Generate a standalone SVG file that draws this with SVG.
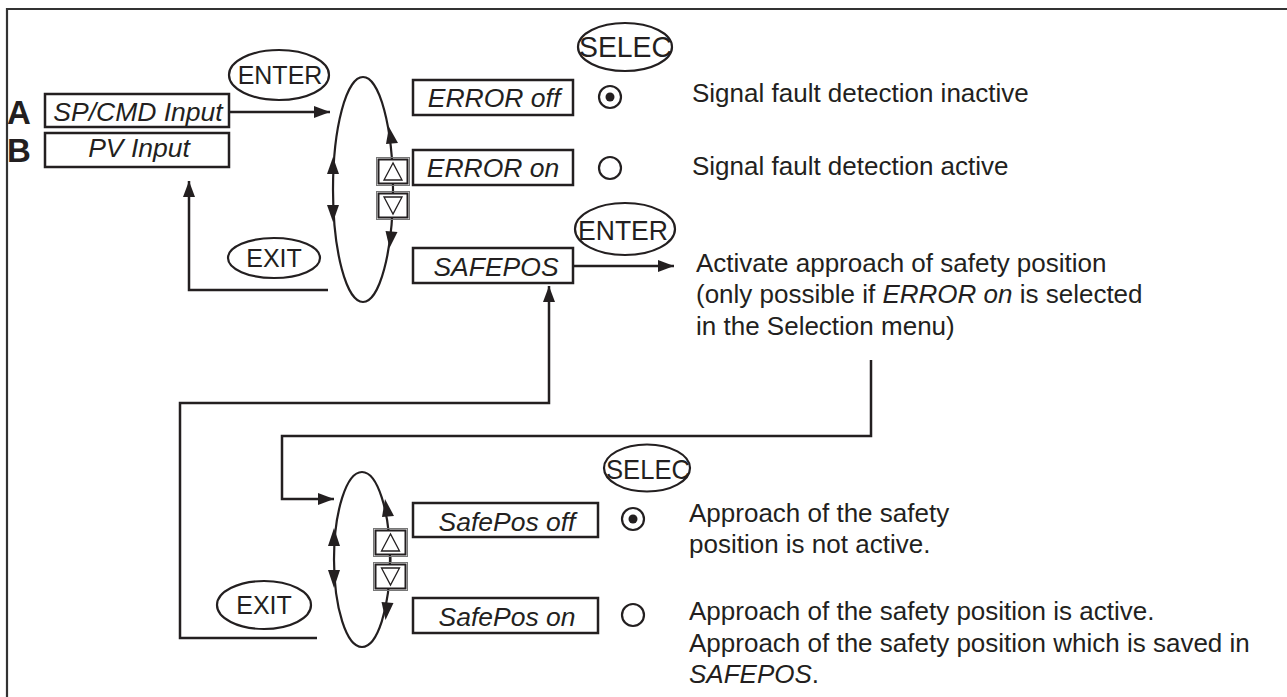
<svg xmlns="http://www.w3.org/2000/svg" width="1287" height="697" viewBox="0 0 1287 697">
<style>
.t{font-family:"Liberation Sans",Arial,sans-serif;fill:#231f20;}
.d{font-size:26px;}
.bx{fill:#fff;stroke:#231f20;stroke-width:2.5;}
.bl{font-size:26.5px;font-style:italic;text-anchor:middle;}
.el{fill:#fff;stroke:#231f20;stroke-width:2.2;}
.lp{fill:none;stroke:#231f20;stroke-width:2.2;}
.cn{fill:none;stroke:#231f20;stroke-width:2.5;}
.ah{fill:#231f20;stroke:none;}
.btn{fill:#fff;stroke:#231f20;stroke-width:2;}
.btno{fill:none;stroke:#777;stroke-width:1;}
.tri{fill:#fff;stroke:#231f20;stroke-width:1.3;}
.rd{fill:#fff;stroke:#231f20;stroke-width:2.2;}
.key{font-size:25px;text-anchor:middle;}
</style>
<defs>
<marker id="arr" viewBox="0 0 16 12" refX="16" refY="6" markerWidth="16" markerHeight="12" markerUnits="userSpaceOnUse" orient="auto">
<path d="M0,0 L16,6 L0,12 Z" fill="#231f20"/>
</marker>
</defs>
<rect x="0" y="0" width="1287" height="697" fill="#fff"/>
<g id="frame">
<polyline points="7,697 7,9 1287,9" fill="none" stroke="#333" stroke-width="2.2"/>
</g>

<g id="connectors">
<line class="cn" x1="229" y1="112" x2="330" y2="112" marker-end="url(#arr)"/>
<polyline class="cn" points="328,290 189,290 189,181" marker-end="url(#arr)"/>
<line class="cn" x1="573" y1="266" x2="674" y2="266" marker-end="url(#arr)"/>
<polyline class="cn" points="317,638 180,638 180,403 549,403 549,286" marker-end="url(#arr)"/>
<polyline class="cn" points="871,360 871,436 282,436 282,499 334,499" marker-end="url(#arr)"/>
</g>

<g id="labelA"><text class="t" x="7" y="124" font-size="33" font-weight="bold">A</text></g>
<g id="labelB"><text class="t" x="7" y="162" font-size="33" font-weight="bold">B</text></g>

<g id="spcmd">
<rect class="bx" x="45" y="94" width="184" height="33"/>
<text class="t bl" x="138" y="121">SP/CMD Input</text>
</g>
<g id="pvinput">
<rect class="bx" x="45" y="133" width="184" height="34"/>
<text class="t bl" x="139" y="157">PV Input</text>
</g>

<g id="enter1">
<ellipse class="el" cx="279" cy="75" rx="50" ry="25"/>
<text class="t key" x="280" y="84">ENTER</text>
</g>
<g id="exit1">
<ellipse class="el" cx="274" cy="258" rx="46" ry="20"/>
<text class="t key" x="274" y="267" font-size="24">EXIT</text>
</g>

<g id="loop1">
<ellipse class="lp" cx="363" cy="189.5" rx="30" ry="112.5"/>
<polygon class="ah" points="333,157 327,174 339,174"/>
<polygon class="ah" points="333,222 327,205 339,205"/>
<polygon class="ah" points="389,127 386,144 398,143"/>
<polygon class="ah" points="389.5,248 385.5,231 397.5,232"/>
</g>

<g id="updown1">
<line x1="393" y1="185" x2="393" y2="192" stroke="#231f20" stroke-width="2"/>
<rect class="btno" x="376.5" y="157.5" width="33" height="28"/>
<rect class="btn" x="378.5" y="159.5" width="29" height="24"/>
<polygon class="tri" points="393,163 384,180 402,180"/>
<rect class="btno" x="376.5" y="191.5" width="33" height="28"/>
<rect class="btn" x="378.5" y="193.5" width="29" height="24"/>
<polygon class="tri" points="384,197 402,197 393,214"/>
</g>

<g id="errorOff">
<rect class="bx" x="413" y="80" width="160" height="35"/>
<text class="t bl" x="494" y="107">ERROR off</text>
</g>
<g id="errorOn">
<rect class="bx" x="413" y="150" width="160" height="35"/>
<text class="t bl" x="493" y="177">ERROR on</text>
</g>
<g id="safepos">
<rect class="bx" x="413" y="248" width="160" height="35"/>
<text class="t bl" x="496" y="276">SAFEPOS</text>
</g>

<g id="selec1">
<ellipse class="el" cx="625" cy="47" rx="47" ry="24"/>
<text class="t" x="579" y="57" font-size="29" textLength="93" lengthAdjust="spacingAndGlyphs">SELEC</text>
</g>
<g id="enter2">
<ellipse class="el" cx="625" cy="229" rx="50" ry="26"/>
<text class="t" x="578" y="240" font-size="27" textLength="90" lengthAdjust="spacingAndGlyphs">ENTER</text>
</g>

<g id="radio1">
<circle class="rd" cx="610" cy="97" r="11"/>
<circle cx="610" cy="97" r="4.5" fill="#231f20"/>
</g>
<g id="radio2">
<circle class="rd" cx="610" cy="168" r="11"/>
</g>

<g id="desc1"><text class="t d" x="692" y="102">Signal fault detection inactive</text></g>
<g id="desc2"><text class="t d" x="692" y="175">Signal fault detection active</text></g>
<g id="desc3">
<text class="t d" x="696" y="272">Activate approach of safety position</text>
<text class="t d" x="696" y="303">(only possible if <tspan font-style="italic">ERROR on</tspan> is selected</text>
<text class="t d" x="696" y="335">in the Selection menu)</text>
</g>

<g id="loop2">
<ellipse class="lp" cx="362" cy="559.5" rx="28" ry="87.5"/>
<polygon class="ah" points="334,528 328,546 340,546"/>
<polygon class="ah" points="334,588 328,570 340,570"/>
<polygon class="ah" points="385,499 382,517 394,516"/>
<polygon class="ah" points="385.5,620 381.5,602 393.5,603"/>
</g>

<g id="updown2">
<line x1="390.5" y1="556" x2="390.5" y2="563" stroke="#231f20" stroke-width="2"/>
<rect class="btno" x="373.5" y="528.5" width="34" height="28"/>
<rect class="btn" x="375.5" y="530.5" width="30" height="24"/>
<polygon class="tri" points="390.5,534 381.5,551 399.5,551"/>
<rect class="btno" x="373.5" y="562.5" width="34" height="28"/>
<rect class="btn" x="375.5" y="564.5" width="30" height="24"/>
<polygon class="tri" points="381.5,568 399.5,568 390.5,585"/>
</g>

<g id="exit2">
<ellipse class="el" cx="264" cy="605" rx="47" ry="24"/>
<text class="t key" x="264" y="614" font-size="24">EXIT</text>
</g>

<g id="safePosOff">
<rect class="bx" x="413" y="503" width="185" height="34"/>
<text class="t bl" x="507" y="531">SafePos off</text>
</g>
<g id="safePosOn">
<rect class="bx" x="413" y="598" width="185" height="35"/>
<text class="t bl" x="507" y="626">SafePos on</text>
</g>

<g id="selec2">
<ellipse class="el" cx="647" cy="468" rx="43" ry="23.5"/>
<text class="t" x="606" y="479" font-size="28" textLength="84" lengthAdjust="spacingAndGlyphs">SELEC</text>
</g>

<g id="radio3">
<circle class="rd" cx="633" cy="519" r="11"/>
<circle cx="633" cy="519" r="4.5" fill="#231f20"/>
</g>
<g id="radio4">
<circle class="rd" cx="633" cy="615" r="11"/>
</g>

<g id="desc4">
<text class="t d" x="689" y="522">Approach of the safety</text>
<text class="t d" x="689" y="553">position is not active.</text>
</g>
<g id="desc5">
<text class="t d" x="689" y="620">Approach of the safety position is active.</text>
<text class="t d" x="689" y="652">Approach of the safety position which is saved in</text>
<text class="t d" x="689" y="683"><tspan font-style="italic">SAFEPOS</tspan>.</text>
</g>
</svg>
